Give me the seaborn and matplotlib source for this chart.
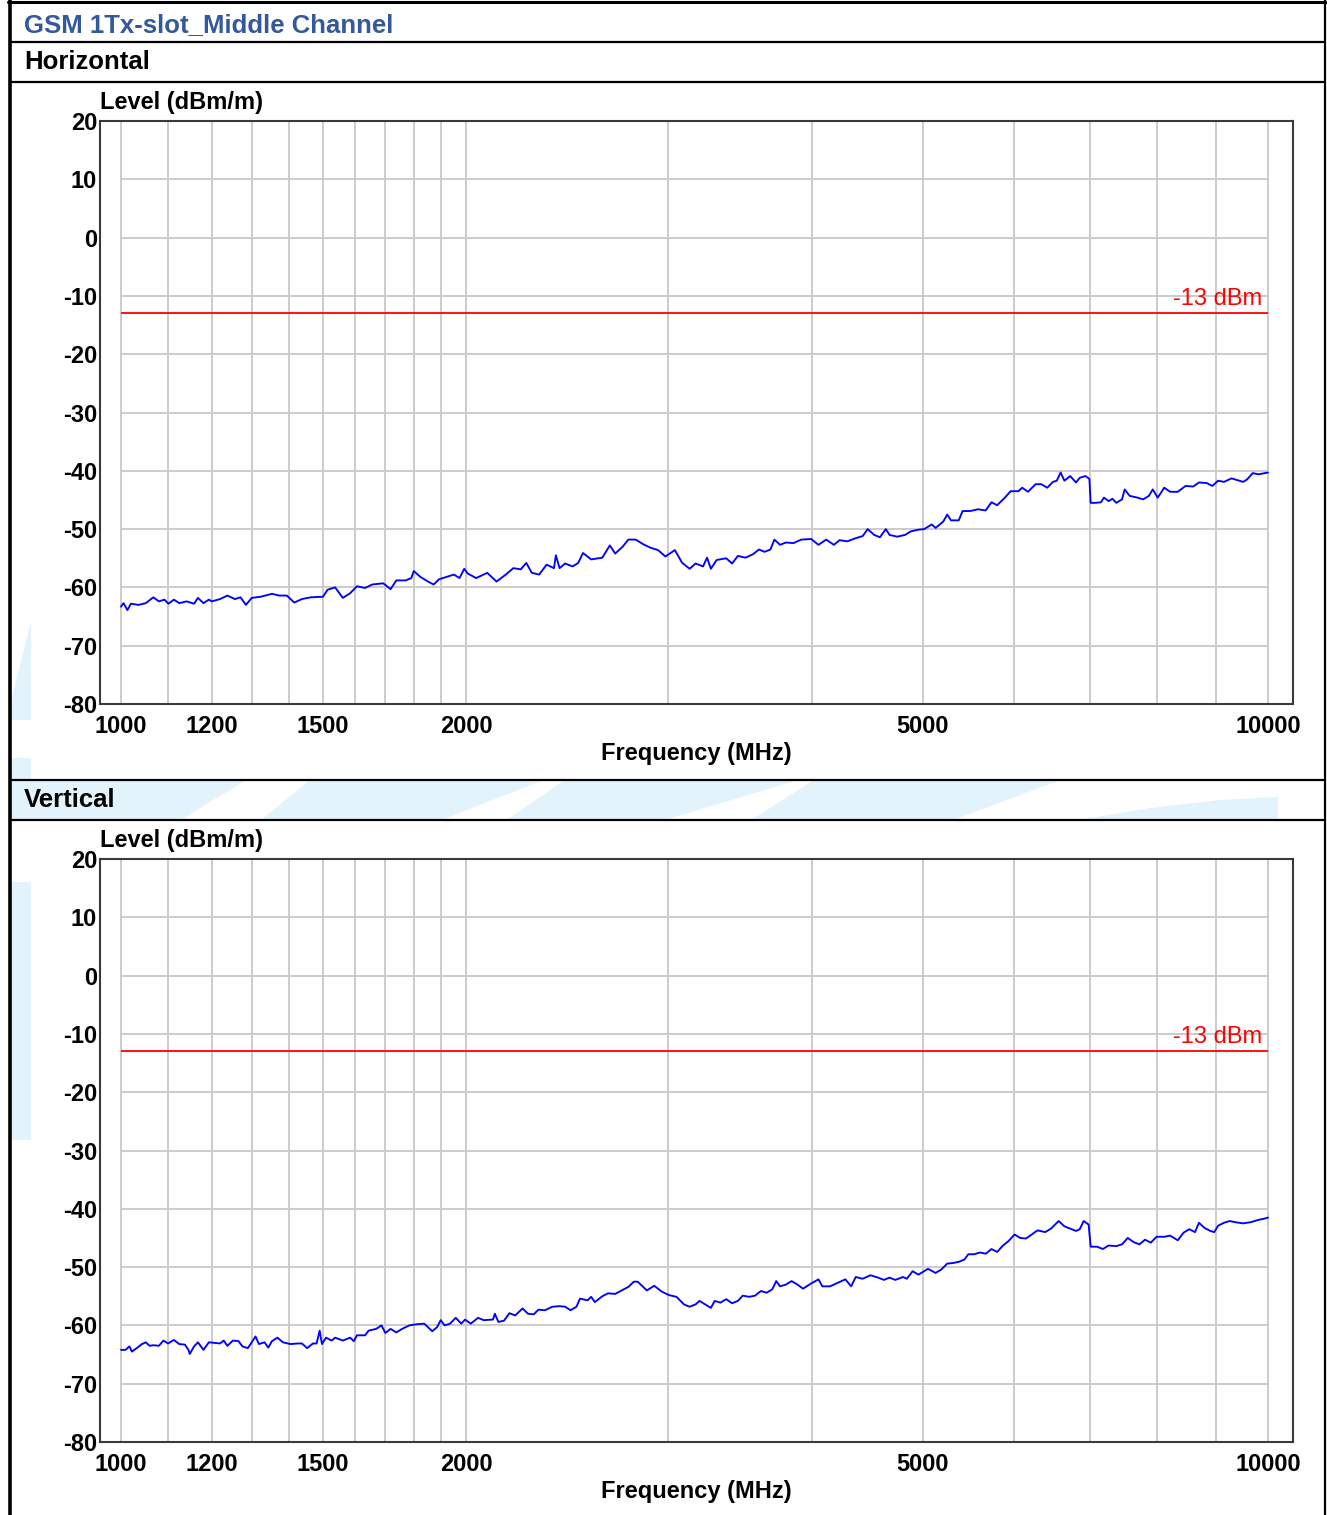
import matplotlib
matplotlib.use("Agg")
import matplotlib.pyplot as plt
from matplotlib.lines import Line2D
from matplotlib.patches import Polygon
from matplotlib.ticker import NullLocator
import seaborn as sns
import pandas as pd

W, H = 1327, 1515

# Horizontal polarization trace (MHz, dBm/m)
h_freq = [1000, 1005, 1013, 1020, 1036, 1051, 1067, 1079, 1091, 1100, 1112, 1124, 1141, 1158, 1167,
          1180, 1193, 1200, 1220, 1238, 1257, 1271, 1285, 1300, 1324, 1354, 1374, 1395, 1416, 1438,
          1464, 1500, 1514, 1537, 1561, 1584, 1606, 1632, 1656, 1693, 1718, 1738, 1771, 1791, 1800,
          1824, 1852, 1873, 1894, 1922, 1951, 1973, 1992, 2005, 2040, 2086, 2125, 2165, 2198, 2231,
          2256, 2281, 2315, 2350, 2385, 2394, 2412, 2439, 2476, 2504, 2528, 2570, 2628, 2668, 2697,
          2738, 2769, 2810, 2853, 2896, 2939, 2983, 3040, 3085, 3132, 3169, 3217, 3243, 3268, 3306,
          3370, 3410, 3450, 3503, 3557, 3599, 3640, 3683, 3712, 3755, 3799, 3858, 3918, 3997, 4056,
          4119, 4183, 4232, 4298, 4364, 4432, 4477, 4536, 4589, 4643, 4678, 4751, 4825, 4881, 4957,
          5014, 5092, 5131, 5211, 5252, 5292, 5375, 5417, 5501, 5587, 5674, 5740, 5806, 5897, 5965,
          6058, 6105, 6176, 6272, 6345, 6420, 6494, 6544, 6595, 6645, 6723, 6801, 6853, 6934, 6987,
          7005, 7068, 7151, 7194, 7262, 7317, 7375, 7460, 7500, 7576, 7694, 7783, 7873, 7935, 8014,
          8120, 8216, 8344, 8474, 8606, 8706, 8841, 8943, 9047, 9154, 9296, 9404, 9512, 9587, 9698,
          9810, 10000]
h_level = [-63.3, -62.7, -63.9, -62.8, -63.0, -62.7, -61.7, -62.4, -62.1, -62.8, -62.1, -62.7, -62.4, -62.8, -61.8,
           -62.7, -62.1, -62.4, -62.0, -61.4, -62.0, -61.7, -63.0, -61.8, -61.6, -61.1, -61.4, -61.4, -62.6, -62.0,
           -61.7, -61.6, -60.4, -60.0, -61.8, -61.0, -59.8, -60.1, -59.5, -59.3, -60.3, -58.8, -58.8, -58.4, -57.2,
           -58.2, -59.0, -59.5, -58.6, -58.2, -57.8, -58.4, -56.8, -57.6, -58.4, -57.5, -59.0, -57.8, -56.7, -56.9,
           -55.8, -57.5, -57.8, -56.1, -56.7, -54.5, -56.7, -55.9, -56.4, -55.8, -54.1, -55.2, -54.9, -52.8, -54.2,
           -53.0, -51.8, -51.8, -52.6, -53.2, -53.6, -54.7, -53.6, -55.8, -56.8, -55.9, -56.4, -54.9, -56.8, -55.3,
           -55.0, -55.9, -54.6, -54.9, -54.3, -53.5, -53.9, -53.5, -51.8, -52.7, -52.3, -52.4, -51.8, -51.7, -52.7,
           -51.8, -52.7, -51.9, -52.1, -51.6, -51.2, -50.0, -51.0, -51.4, -50.0, -51.0, -51.3, -51.0, -50.4, -50.1,
           -50.0, -49.2, -49.8, -48.7, -47.5, -48.5, -48.5, -46.9, -46.9, -46.6, -46.8, -45.4, -45.9, -44.6, -43.5,
           -43.5, -42.9, -43.6, -42.3, -42.3, -42.9, -41.9, -41.7, -40.3, -41.7, -40.9, -42.0, -41.2, -40.9, -41.4,
           -45.5, -45.5, -45.4, -44.6, -45.2, -44.8, -45.5, -44.9, -43.2, -44.3, -44.6, -44.9, -44.3, -43.2, -44.6,
           -42.9, -43.6, -43.6, -42.6, -42.7, -42.0, -42.1, -42.6, -41.7, -41.9, -41.3, -41.6, -41.9, -41.5, -40.4,
           -40.6, -40.3]

# Vertical polarization trace (MHz, dBm/m)
v_freq = [1000, 1009, 1017, 1022, 1032, 1043, 1051, 1059, 1067, 1079, 1089, 1099, 1112, 1124, 1137,
          1145, 1148, 1158, 1167, 1180, 1193, 1206, 1220, 1229, 1238, 1252, 1266, 1276, 1290, 1310,
          1319, 1334, 1344, 1354, 1369, 1384, 1405, 1427, 1438, 1453, 1470, 1481, 1490, 1497, 1509,
          1526, 1537, 1561, 1584, 1596, 1606, 1632, 1644, 1669, 1687, 1700, 1718, 1738, 1758, 1784,
          1811, 1838, 1859, 1868, 1886, 1900, 1915, 1936, 1958, 1980, 1995, 2018, 2048, 2071, 2110,
          2118, 2133, 2157, 2181, 2206, 2239, 2264, 2290, 2312, 2342, 2377, 2412, 2439, 2466, 2495,
          2513, 2551, 2570, 2589, 2628, 2658, 2697, 2738, 2769, 2800, 2821, 2853, 2874, 2917, 2961,
          3004, 3050, 3096, 3131, 3169, 3194, 3231, 3268, 3293, 3331, 3370, 3410, 3450, 3484, 3530,
          3571, 3613, 3655, 3697, 3726, 3755, 3799, 3843, 3888, 3932, 3997, 4056, 4088, 4151, 4215,
          4281, 4331, 4371, 4432, 4502, 4572, 4625, 4678, 4732, 4806, 4843, 4900, 4957, 5053, 5131,
          5191, 5252, 5313, 5375, 5437, 5479, 5543, 5608, 5674, 5740, 5806, 5874, 5943, 6012, 6081,
          6152, 6224, 6296, 6394, 6468, 6569, 6645, 6723, 6801, 6853, 6907, 6976, 7005, 7096, 7178,
          7262, 7375, 7460, 7546, 7634, 7724, 7813, 7904, 7996, 8120, 8216, 8344, 8440, 8538, 8637,
          8706, 8806, 8908, 8978, 9047, 9154, 9260, 9367, 9512, 9660, 9810, 9923, 10000]
v_level = [-64.2, -64.2, -63.6, -64.5, -63.9, -63.2, -62.9, -63.5, -63.4, -63.5, -62.6, -63.1, -62.5, -63.2, -63.3,
           -64.2, -64.9, -63.6, -62.9, -64.2, -62.9, -63.0, -63.1, -62.6, -63.5, -62.6, -62.7, -63.6, -63.9, -61.9,
           -63.2, -62.9, -63.8, -62.7, -62.1, -62.9, -63.2, -63.1, -63.1, -63.9, -63.1, -63.1, -60.9, -63.2, -62.1,
           -62.6, -62.1, -62.6, -62.1, -62.7, -61.7, -61.7, -60.9, -60.6, -60.0, -61.3, -60.6, -61.2, -60.6, -60.0,
           -59.8, -59.7, -60.6, -61.0, -60.3, -59.1, -60.0, -59.7, -58.7, -59.7, -59.0, -59.7, -58.7, -59.1, -59.0,
           -58.0, -59.4, -59.2, -57.9, -58.3, -57.1, -58.0, -58.1, -57.3, -57.4, -56.8, -56.7, -56.8, -57.4, -56.8,
           -55.4, -55.7, -55.1, -56.0, -55.0, -54.5, -54.6, -53.9, -53.4, -52.5, -52.5, -53.4, -54.0, -53.2, -54.2,
           -54.8, -55.1, -56.4, -56.8, -56.4, -55.8, -56.4, -57.0, -55.8, -56.1, -55.5, -56.2, -55.8, -54.9, -55.1,
           -54.9, -54.1, -54.4, -53.8, -52.4, -53.3, -53.0, -52.4, -53.0, -53.7, -52.8, -52.1, -53.3, -53.3, -52.7,
           -52.1, -53.3, -51.7, -52.0, -51.4, -51.8, -52.2, -51.8, -52.2, -51.7, -52.0, -50.7, -51.3, -50.3, -51.0,
           -50.4, -49.4, -49.3, -49.1, -48.7, -47.8, -47.8, -47.5, -47.7, -46.9, -47.4, -46.3, -45.5, -44.4, -45.0,
           -45.1, -44.4, -43.7, -44.0, -43.4, -42.1, -43.0, -43.4, -43.8, -43.5, -42.1, -42.7, -46.5, -46.5, -46.9,
           -46.3, -46.4, -46.1, -45.0, -45.7, -46.1, -45.3, -45.8, -44.8, -44.8, -44.6, -45.4, -44.1, -43.5, -44.0,
           -42.4, -43.3, -43.8, -44.0, -42.9, -42.4, -42.1, -42.3, -42.5, -42.3, -41.9, -41.7, -41.5]

limite_nivel = -13
limite_texto = "-13 dBm"
y_ticks = [20, 10, 0, -10, -20, -30, -40, -50, -60, -70, -80]
x_ticks = [1000, 1200, 1500, 2000, 5000, 10000]
x_grade = [1000, 1100, 1200, 1300, 1400, 1500, 1600, 1700, 1800, 1900, 2000,
           3000, 4000, 5000, 6000, 7000, 8000, 9000, 10000]
titulo = "GSM 1Tx-slot_Middle Channel"
paineis = ["Horizontal", "Vertical"]


def fx(x):
    return x / W


def fy(y):
    return 1 - y / H


def desenha_fundo(fig):
    # marca d'agua azul clara (so aparece fora dos graficos)
    azul = "#E3F3FC"
    formas = [
        [(31, 622), (31, 720), (11, 720), (11, 700)],
        [(11, 758), (31, 758), (31, 781), (11, 781)],
        [(11, 882), (31, 882), (31, 1140), (11, 1140)],
        [(11, 781), (245, 781), (182, 819), (11, 819)],
        [(309, 781), (541, 781), (444, 819), (262, 819)],
        [(563, 781), (795, 781), (668, 819), (508, 819)],
        [(812, 781), (1058, 781), (956, 819), (753, 819)],
        [(1085, 819), (1150, 808), (1220, 800), (1278, 797), (1278, 819)],
    ]
    for forma in formas:
        pts = [(fx(x), fy(y)) for x, y in forma]
        fig.add_artist(Polygon(pts, closed=True, transform=fig.transFigure,
                               facecolor=azul, edgecolor="none", zorder=-1))

    # moldura da tabela
    linhas = [
        ([9.5, 9.5], [0, H], 2.6),
        ([1325, 1325], [0, H], 1.6),
        ([8, 1327], [1.5, 1.5], 2.2),
        ([10, 1325], [42, 42], 1.6),
        ([10, 1325], [82, 82], 1.6),
        ([10, 1325], [780, 780], 1.6),
        ([10, 1325], [820, 820], 1.6),
    ]
    for xs, ys, lw in linhas:
        fig.add_artist(Line2D([fx(x) for x in xs], [fy(y) for y in ys],
                              transform=fig.transFigure, color="black", lw=lw, zorder=5))

    fig.text(fx(24), fy(25), titulo, color="#34589C", fontsize=18.5,
             fontweight="bold", va="center", ha="left")


def desenha_painel(fig, ax, freq, level, nome, topo):
    ax.set_facecolor("white")
    ax.set_xscale("log")

    for f in x_grade:
        ax.axvline(f, color="#CBCBCB", lw=1.4, zorder=1)
    ax.hlines(y_ticks, 1000, 10000, color="#CBCBCB", lw=1.4, zorder=1)
    ax.hlines(limite_nivel, 1000, 10000, color="#FF0000", lw=1.3, zorder=2)
    ax.text(9880, -10.6, limite_texto, color="#FF0000", ha="right", va="center",
            fontsize=17, zorder=4)

    df = pd.DataFrame({"freq": freq, "level": level})
    sns.lineplot(data=df, x="freq", y="level", ax=ax, color="#0000FF", lw=1.35,
                 estimator=None, sort=False, zorder=3)

    ax.set_xlim(958.7, 10515)
    ax.set_ylim(-80, 20)
    ax.set_xticks(x_ticks)
    ax.set_xticklabels([str(t) for t in x_ticks])
    ax.xaxis.set_minor_locator(NullLocator())
    ax.set_yticks(y_ticks)
    ax.set_yticklabels([str(t) for t in y_ticks])
    ax.tick_params(axis="x", length=0, pad=8, labelsize=17, colors="black")
    ax.tick_params(axis="y", length=0, pad=2, labelsize=17, colors="black")
    plt.setp(ax.get_xticklabels(), fontweight="bold")
    plt.setp(ax.get_yticklabels(), fontweight="bold")

    ax.set_ylabel("")
    ax.set_xlabel("Frequency (MHz)", fontsize=17, fontweight="bold",
                  labelpad=3, color="black")
    for s in ax.spines.values():
        s.set_visible(True)
        s.set_color("#3A3A3A")
        s.set_linewidth(1.5)

    fig.text(fx(100), fy(topo - 18), "Level (dBm/m)", fontsize=17,
             fontweight="bold", va="center", ha="left", color="black")
    fig.text(fx(24), fy(topo - 59), nome, fontsize=18.5, fontweight="bold",
             va="center", ha="left", color="black")


if __name__ == "__main__":
    sns.set_style("white")
    plt.rcParams["font.family"] = ["Liberation Sans", "DejaVu Sans"]
    plt.rcParams["text.color"] = "black"

    fig = plt.figure(figsize=(W / 100, H / 100), dpi=100)
    desenha_fundo(fig)

    ax_h = fig.add_axes([fx(100), fy(704), 1193 / W, 583 / H])
    ax_v = fig.add_axes([fx(100), fy(1442), 1193 / W, 583 / H])

    desenha_painel(fig, ax_h, h_freq, h_level, paineis[0], 121)
    desenha_painel(fig, ax_v, v_freq, v_level, paineis[1], 859)

    fig.savefig("out.png", dpi=100)
    plt.close(fig)
